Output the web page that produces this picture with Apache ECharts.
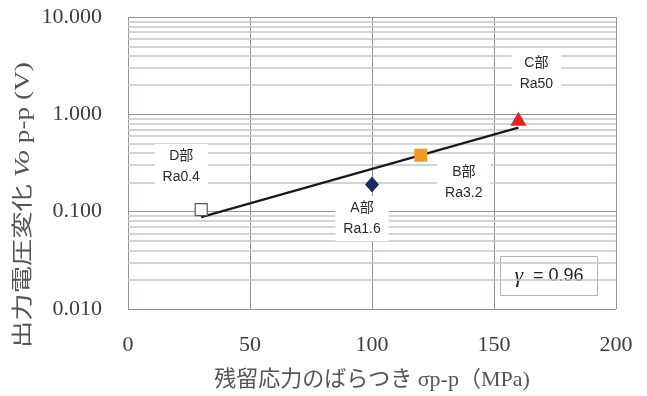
<!DOCTYPE html>
<html>
<head>
<meta charset="utf-8">
<script src="https://cdn.jsdelivr.net/npm/echarts@6/dist/echarts.min.js"></script>
<style>
  html, body { margin: 0; padding: 0; background: #fff; }
  #chart { width: 647px; height: 396px; }
</style>
</head>
<body>
<div id="chart"></div>
<script>
// Measured parts: residual-stress scatter (MPa) vs output-voltage change (V)
const parts      = ['D部', 'A部', 'B部', 'C部'];
const roughness  = ['Ra0.4', 'Ra1.6', 'Ra3.2', 'Ra50'];
const stressPP   = [30, 100, 120, 160];
const voltagePP  = [0.105, 0.19, 0.38, 0.9];

// Exponential trend (straight on the log axis), read at its two ends
const trendX = [30, 160];
const trendY = [0.088, 0.73];

const correlation = '0.96';

// Tick values
const xTicks = [0, 50, 100, 150, 200];
const yDecades = [0.01, 0.1, 1, 10];
// Minor grid values inside each decade
const yMinor = [0.02, 0.03, 0.04, 0.05, 0.06, 0.07, 0.08, 0.09,
                0.2, 0.3, 0.4, 0.5, 0.6, 0.7, 0.8, 0.9,
                2, 3, 4, 5, 6, 7, 8, 9];

// Marker appearance per part
const markerStyle = [
  { symbol: 'rect',     size: 12, color: '#ffffff', border: '#555555', bw: 1.2 },
  { symbol: 'diamond',  size: [14, 16], color: '#1c2a68', border: '#1c2a68', bw: 0 },
  { symbol: 'rect',     size: 13, color: '#f09a28', border: '#f09a28', bw: 0 },
  { symbol: 'triangle', size: [16, 14], color: '#e8201f', border: '#e8201f', bw: 0 }
];
// Annotation placement relative to each marker (px)
const labelOffset = [[-20, -43], [-10, 34], [43, 27], [18, -45]];

const chart = echarts.init(document.getElementById('chart'), null, { renderer: 'canvas' });

const serif = '"Liberation Serif", "Noto Sans CJK JP", serif';
const sans = '"Liberation Sans", "Noto Sans CJK JP", sans-serif';
const majorGrid = { color: '#8d93a2', width: 1 };

const points = parts.map((p, i) => ({
  value: [stressPP[i], voltagePP[i]],
  name: p,
  symbol: markerStyle[i].symbol,
  symbolSize: markerStyle[i].size,
  itemStyle: {
    color: markerStyle[i].color, borderColor: markerStyle[i].border,
    borderWidth: markerStyle[i].bw, opacity: 1
  },
  label: {
    show: true,
    position: 'inside',
    offset: labelOffset[i],
    formatter: p + '\n' + roughness[i],
    fontFamily: sans,
    fontSize: 14,
    lineHeight: 21,
    color: '#2a2a2a',
    backgroundColor: '#ffffff',
    padding: [2, 8, 1, 8]
  }
}));

chart.setOption({
  animation: false,
  backgroundColor: '#ffffff',
  grid: { left: 128, right: 31, top: 17, bottom: 85, containLabel: false },
  xAxis: {
    type: 'value',
    min: xTicks[0],
    max: xTicks[xTicks.length - 1],
    interval: xTicks[1] - xTicks[0],
    axisLine: { show: false },
    axisTick: { show: false },
    axisLabel: { fontFamily: serif, fontSize: 22, color: '#3c3c3c', margin: 25 },
    splitLine: { show: true, lineStyle: majorGrid },
    name: '残留応力のばらつき σp-p（MPa)',
    nameLocation: 'middle',
    nameGap: 60,
    nameTextStyle: { fontFamily: serif, fontSize: 22, color: '#555555' }
  },
  yAxis: {
    type: 'log',
    logBase: 10,
    min: yDecades[0],
    max: yDecades[yDecades.length - 1],
    axisLine: { show: false },
    axisTick: { show: false },
    axisLabel: {
      fontFamily: serif, fontSize: 22, color: '#3c3c3c', margin: 26,
      formatter: v => Number(v).toFixed(3)
    },
    splitLine: { show: true, lineStyle: majorGrid }
  },
  graphic: [
    {
      type: 'text',
      x: 23, y: 205,
      rotation: Math.PI / 2,
      scaleX: 1.3,
      style: {
        text: '出力電圧変化 {i|Vo} p-p (V)',
        rich: { i: { fontStyle: 'italic', fontFamily: serif, fontSize: 21, fill: '#555555' } },
        fontFamily: serif, fontSize: 21, fill: '#555555',
        align: 'center', verticalAlign: 'middle'
      }
    },
    {
      type: 'group',
      left: 500, top: 256,
      children: [
        { type: 'rect', shape: { x: 0, y: 0, width: 97, height: 39 },
          style: { fill: '#ffffff', stroke: '#b4b4b4', lineWidth: 1 } },
        { type: 'text', x: 48.5, y: 20,
          style: {
            text: '{g|γ}  = ' + correlation,
            rich: { g: { fontStyle: 'italic', fontFamily: serif, fontSize: 22, fill: '#222222' } },
            fontFamily: sans, fontSize: 18, fill: '#222222',
            align: 'center', verticalAlign: 'middle'
          } }
      ]
    }
  ],
  series: [
    {
      // minor log grid
      type: 'line',
      data: [],
      silent: true,
      z: 1,
      markLine: {
        z: 1,
        silent: true,
        symbol: 'none',
        animation: false,
        label: { show: false },
        lineStyle: { color: '#c6c6c6', width: 1.6, type: 'solid' },
        emphasis: { disabled: true },
        data: yMinor.map(v => ({ yAxis: v }))
      }
    },
    {
      type: 'line',
      data: trendX.map((x, i) => [x, trendY[i]]),
      symbol: 'none',
      lineStyle: { color: '#1a1a1a', width: 2.2 },
      z: 3
    },
    {
      type: 'scatter',
      data: points,
      z: 4
    }
  ]
});
</script>
</body>
</html>
